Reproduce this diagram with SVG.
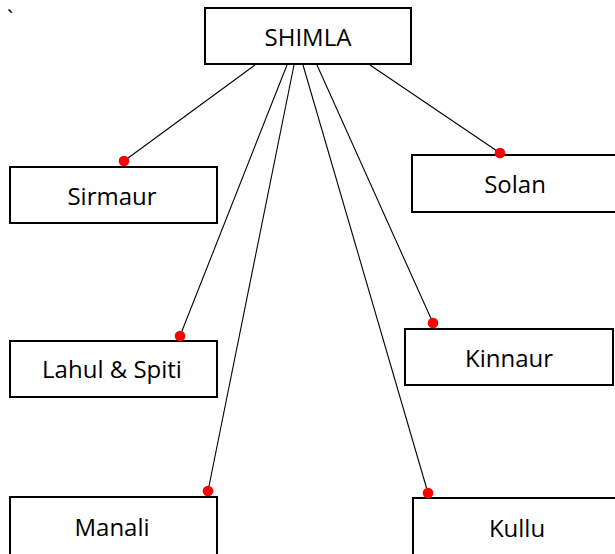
<svg xmlns="http://www.w3.org/2000/svg" width="615" height="554" viewBox="0 0 615 554">
<style>
.box{fill:#fff;stroke:#000;stroke-width:2}
.lbl{font-family:"Open Sans","Noto Sans",sans-serif;font-size:24px;fill:#000;text-anchor:middle}
.ln{stroke:#000;stroke-width:1.1;fill:none}
.dot{fill:#f00}
</style>
<rect width="615" height="554" fill="#fff"/>
<text x="7" y="26" font-family="'Open Sans',sans-serif" font-size="22" fill="#000">`</text>
<g id="connectors">
<line class="ln" x1="255" y1="65" x2="124" y2="161"/>
<line class="ln" x1="287" y1="65" x2="180" y2="336"/>
<line class="ln" x1="294" y1="65" x2="208" y2="491"/>
<line class="ln" x1="303" y1="65" x2="428" y2="493"/>
<line class="ln" x1="317" y1="65" x2="433" y2="323"/>
<line class="ln" x1="370" y1="65" x2="500" y2="153"/>
</g>
<g id="shimla"><rect class="box" x="205" y="8" width="206" height="56"/><text class="lbl" x="308" y="46">SHIMLA</text></g>
<g id="sirmaur"><rect class="box" x="10" y="167" width="207" height="56"/><text class="lbl" x="112" y="205">Sirmaur</text><circle class="dot" cx="124" cy="161" r="5.3"/></g>
<g id="solan"><rect class="box" x="412" y="155" width="208" height="57"/><text class="lbl" x="515" y="193">Solan</text><circle class="dot" cx="500" cy="153" r="5.3"/></g>
<g id="lahul"><rect class="box" x="10" y="341" width="207" height="56"/><text class="lbl" x="112" y="378">Lahul &amp; Spiti</text><circle class="dot" cx="180" cy="336" r="5.3"/></g>
<g id="kinnaur"><rect class="box" x="405" y="329" width="208" height="56"/><text class="lbl" x="509" y="367">Kinnaur</text><circle class="dot" cx="433" cy="323" r="5.3"/></g>
<g id="manali"><rect class="box" x="10" y="497" width="207" height="70"/><text class="lbl" x="112" y="536">Manali</text><circle class="dot" cx="208" cy="491" r="5.3"/></g>
<g id="kullu"><rect class="box" x="413" y="498" width="208" height="70"/><text class="lbl" x="517" y="537">Kullu</text><circle class="dot" cx="428" cy="493" r="5.3"/></g>
</svg>
